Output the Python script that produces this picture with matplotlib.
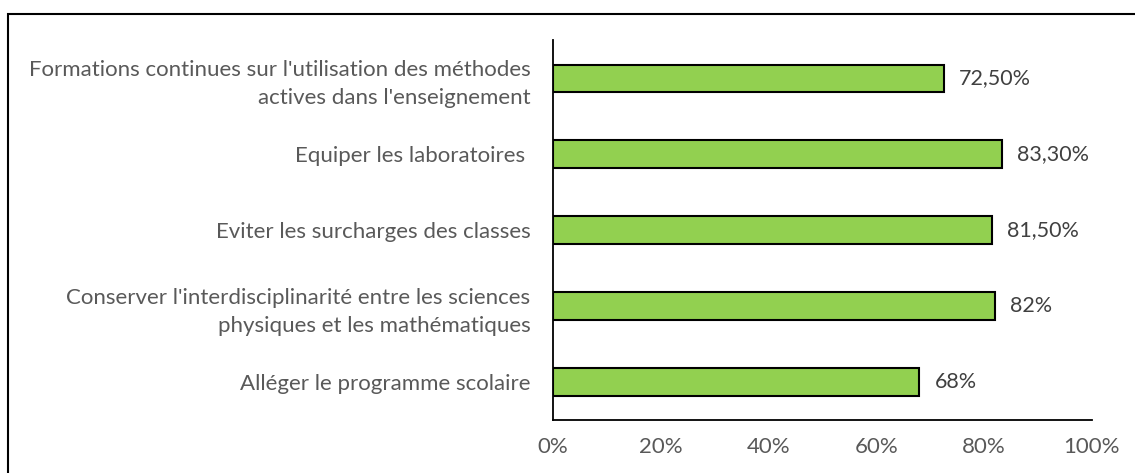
import matplotlib
matplotlib.use("Agg")
import matplotlib.pyplot as plt
from matplotlib.patches import Rectangle
from matplotlib.ticker import FuncFormatter

categories = [
    "Alléger le programme scolaire",
    "Conserver l'interdisciplinarité entre les sciences\nphysiques et les mathématiques",
    "Eviter les surcharges des classes",
    "Equiper les laboratoires ",
    "Formations continues sur l'utilisation des méthodes\nactives dans l'enseignement",
]
values = [68, 82, 81.5, 83.3, 72.5]
value_labels = ["68%", "82%", "81,50%", "83,30%", "72,50%"]

plt.rcParams['font.family'] = ['Lato', 'DejaVu Sans']

fig = plt.figure(figsize=(11.35, 4.73), dpi=100)
ax = fig.add_axes([0.487, 0.112, 0.475, 0.803])

y = range(len(categories))
ax.barh(y, values, height=0.36, color='#92D050', edgecolor='black', linewidth=1.5)
for i, v in enumerate(values):
    ax.text(v + 2.8, i, value_labels[i], va='center', ha='left', fontsize=15.5, color='#404040')

ax.set_xlim(0, 100)
ax.set_ylim(-0.5, 4.5)
ax.set_yticks(list(y))
ax.set_yticklabels(categories, fontsize=16, color='#595959', linespacing=1.5)
ax.set_xticks(range(0, 101, 20))
ax.xaxis.set_major_formatter(FuncFormatter(lambda x, p: f"{int(x)}%"))
ax.tick_params(axis='x', labelsize=16, colors='#595959', length=0, pad=12)
ax.tick_params(axis='y', length=0, pad=16)
for lbl in ax.get_yticklabels():
    lbl.set_multialignment('right')
ax.spines['top'].set_visible(False)
ax.spines['right'].set_visible(False)
ax.spines['left'].set_linewidth(1.3)
ax.spines['bottom'].set_linewidth(1.3)

# outer chart border
fig.patches.append(Rectangle((8 / 1135, -0.1), 1.2, 1 - 14 / 473 + 0.1,
                             transform=fig.transFigure, fill=False,
                             edgecolor='black', linewidth=1.5))

fig.savefig("out.png", dpi=100)
